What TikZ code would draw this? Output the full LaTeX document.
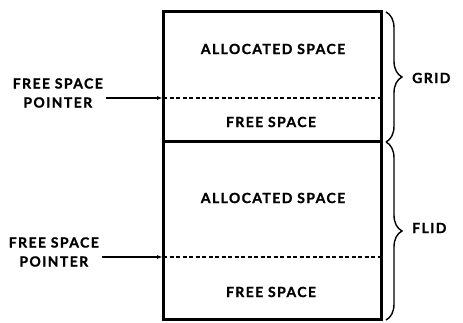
\documentclass[tikz,border=0pt]{standalone}
\usepackage{fontspec}
\newfontfamily\diagfont{Lato}[LetterSpace=10, BoldFeatures={FakeBold=1.2}]
\usetikzlibrary{arrows.meta,decorations.pathreplacing,positioning}

\begin{document}
\begin{tikzpicture}[x=1pt,y=1pt]
    \tikzset{txt/.style = {font=\diagfont\bfseries\fontsize{14}{19}\selectfont, align=center, inner sep=1pt}}
    \tikzset{ptr/.style = {line width=1.2pt, -{Latex[length=6pt,width=4pt]}}}
    \tikzset{wall/.style = {line width=3pt}}
    \tikzset{sep/.style = {dash pattern=on 4pt off 2.5pt, line width=2pt}}
    \tikzset{bracket/.style = {decorate, decoration={brace, amplitude=16pt, aspect=0.5}, line width=1.4pt}}

    \useasboundingbox (0,0) rectangle (463,323);

    % memory box
    \coordinate (tl) at (163,311);
    \coordinate (tr) at (381,311);
    \coordinate (ml) at (163,181);
    \coordinate (mr) at (381,181);
    \coordinate (bl) at (163,3);
    \coordinate (br) at (381,3);
    \coordinate (d1l) at (163,225);
    \coordinate (d1r) at (381,225);
    \coordinate (d2l) at (163,66);
    \coordinate (d2r) at (381,66);
    \draw[wall] (tl) rectangle (br);
    \draw[wall] (ml) -- (mr);
    \draw[sep] (d1l) -- (d1r);
    \draw[sep] (d2l) -- (d2r);

    % areas
    \node[txt] (alloc1) at (273,274) {ALLOCATED SPACE};
    \node[txt] (free1) at (271,201) {FREE SPACE};
    \node[txt] (alloc2) at (273,125) {ALLOCATED SPACE};
    \node[txt] (free2) at (271,31) {FREE SPACE};

    % pointers
    \node[txt, anchor=east] (ptr1) at (104,230) {FREE SPACE\\POINTER};
    \node[txt, anchor=east] (ptr2) at (100,71) {FREE SPACE\\POINTER};
    \draw[ptr] (ptr1.east |- d1l) ++(2,0) coordinate (p1) -- (d1l);
    \draw[ptr] (ptr2.east |- d2l) ++(2,0) coordinate (p2) -- (d2l);

    % braces
    \draw[bracket] (386,311) -- (386,181) node[midway, coordinate] (g) {};
    \draw[bracket] (386,181) -- (386,3) node[midway, coordinate] (f) {};
    \node[txt, anchor=west] (grid) at (411,245) {GRID};
    \node[txt, anchor=west] (flid) at (411,95) {FLID};
\end{tikzpicture}
\end{document}
